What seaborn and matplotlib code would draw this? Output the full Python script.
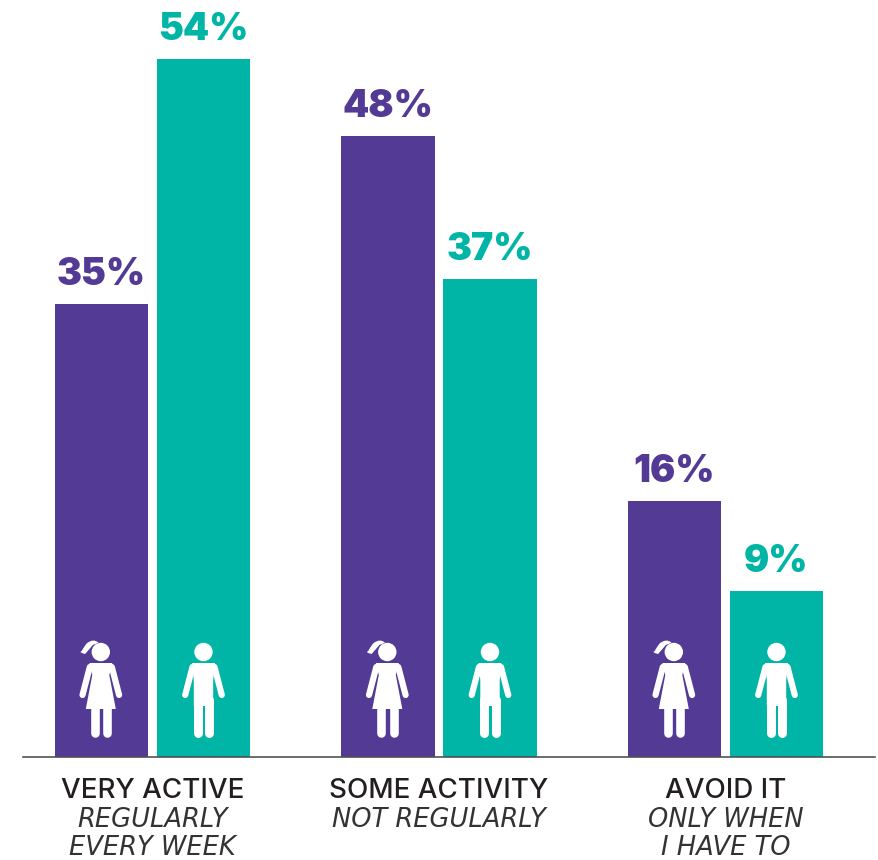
import matplotlib
matplotlib.use("Agg")
import matplotlib.pyplot as plt
from matplotlib.patches import Circle, Polygon, PathPatch
from matplotlib.path import Path
from matplotlib.lines import Line2D
import seaborn as sns
import pandas as pd

categories = ["VERY ACTIVE", "SOME ACTIVITY", "AVOID IT"]
subtitles = [["REGULARLY", "EVERY WEEK"], ["NOT REGULARLY"], ["ONLY WHEN", "I HAVE TO"]]
girls_heights = [35, 48, 19.8]
boys_heights = [54, 37, 12.8]
girls_labels = ["35%", "48%", "16%"]
boys_labels = ["54%", "37%", "9%"]
PURPLE = "#533A94"
TEAL = "#00B5A5"

sns.set_theme(style="white")
W, H = 879, 860
BASE = 757
fig = plt.figure(figsize=(W / 100, H / 100), dpi=100, facecolor="white")
ax = fig.add_axes([23 / W, (H - BASE) / H, (875 - 23) / W, BASE / H])
px = 72 / 100

df = pd.DataFrame({
    "cat": categories * 2,
    "who": ["girls"] * 3 + ["boys"] * 3,
    "val": girls_heights + boys_heights,
})
sns.barplot(data=df, x="cat", y="val", hue="who", order=categories, hue_order=["girls", "boys"],
            palette=[PURPLE, TEAL], width=0.712, gap=0.088, saturation=1, legend=False,
            linewidth=0, ax=ax)
ax.set_xlim((23 - 152.5) / 286.5, (875 - 152.5) / 286.5)
ax.set_ylim(0, BASE / 12.93)
ax.set_xticks([])
ax.set_yticks([])
ax.set_xlabel("")
ax.set_ylabel("")
sns.despine(ax=ax, left=True)
ax.spines["bottom"].set_color("#4d4d4d")
ax.spines["bottom"].set_linewidth(1.6 * px)
ax.spines["bottom"].set_zorder(5)

VAL_FONT = dict(family="Inter", fontweight="black", fontsize=27, ha="center", va="baseline")
for container, labels, color in zip(ax.containers, [girls_labels, boys_labels], [PURPLE, TEAL]):
    for bar, label in zip(container, labels):
        ax.annotate(label, (bar.get_x() + bar.get_width() / 2, bar.get_height()),
                    xytext=(0, 19 * px), textcoords="offset points", color=color, **VAL_FONT)

for i, (cat, subs) in enumerate(zip(categories, subtitles)):
    ax.annotate(cat, (i, 0), xytext=(0, -41 * px), textcoords="offset points", color="#231f20",
                family="Inter", fontweight="medium", fontsize=20, ha="center", va="baseline",
                annotation_clip=False)
    for j, s in enumerate(subs):
        ax.annotate(s, (i, 0), xytext=(0, -(70 + 28 * j) * px), textcoords="offset points",
                    color="#333333", family="DejaVu Sans", style="oblique", fontweight="normal",
                    fontsize=18.5, ha="center", va="baseline", annotation_clip=False)

# overlay in pixel coordinates for the pictogram icons
ov = fig.add_axes([0, 0, 1, 1], facecolor="none")
ov.set_xlim(0, W)
ov.set_ylim(H, 0)
ov.axis("off")


def limb(x0, y0, x1, y1, w):
    ov.add_line(Line2D([x0, x1], [y0, y1], color="white", lw=w * px, solid_capstyle="round"))


def person(cx, female):
    ov.add_patch(Circle((cx, 652), 9.2, fc="white", ec="none"))
    for s in (-1, 1):
        limb(cx + s * 11, 667, cx + s * 18.3, 695, 6.2)
    if female:
        ov.add_patch(Polygon([(cx - 11.5, 663), (cx + 11.5, 663), (cx + 8.5, 675), (cx + 15, 709),
                              (cx - 15, 709), (cx - 8.5, 675)], fc="white", ec="none"))
        for s in (-1, 1):
            limb(cx + s * 6.2, 708, cx + s * 6.2, 733, 8.6)
        verts = [(cx - 2.3, 642.7), (cx - 7.3, 638), (cx - 14, 643.3), (cx - 18, 648.3),
                 (cx - 19, 651), (cx - 23, 652.3), (cx - 15.7, 654),
                 (cx - 10.7, 648.3), (cx - 8, 645), (cx - 5, 644), (cx - 2.3, 642.7)]
        codes = [Path.MOVETO] + [Path.CURVE3] * 10
        ov.add_patch(PathPatch(Path(verts, codes), fc="white", ec="none"))
    else:
        ov.add_patch(Polygon([(cx - 11.5, 663), (cx + 11.5, 663), (cx + 9.7, 680),
                              (cx + 9.7, 706), (cx - 9.7, 706), (cx - 9.7, 680)],
                             fc="white", ec="none"))
        for s in (-1, 1):
            limb(cx + s * 5.7, 700, cx + s * 5.7, 733, 9)


for container, female in zip(ax.containers, [True, False]):
    for bar in container:
        xd = ax.transData.transform((bar.get_x() + bar.get_width() / 2, 0))[0]
        person(xd - (0.7 if female else 0), female)

fig.savefig("out.png", dpi=100, facecolor="white")
